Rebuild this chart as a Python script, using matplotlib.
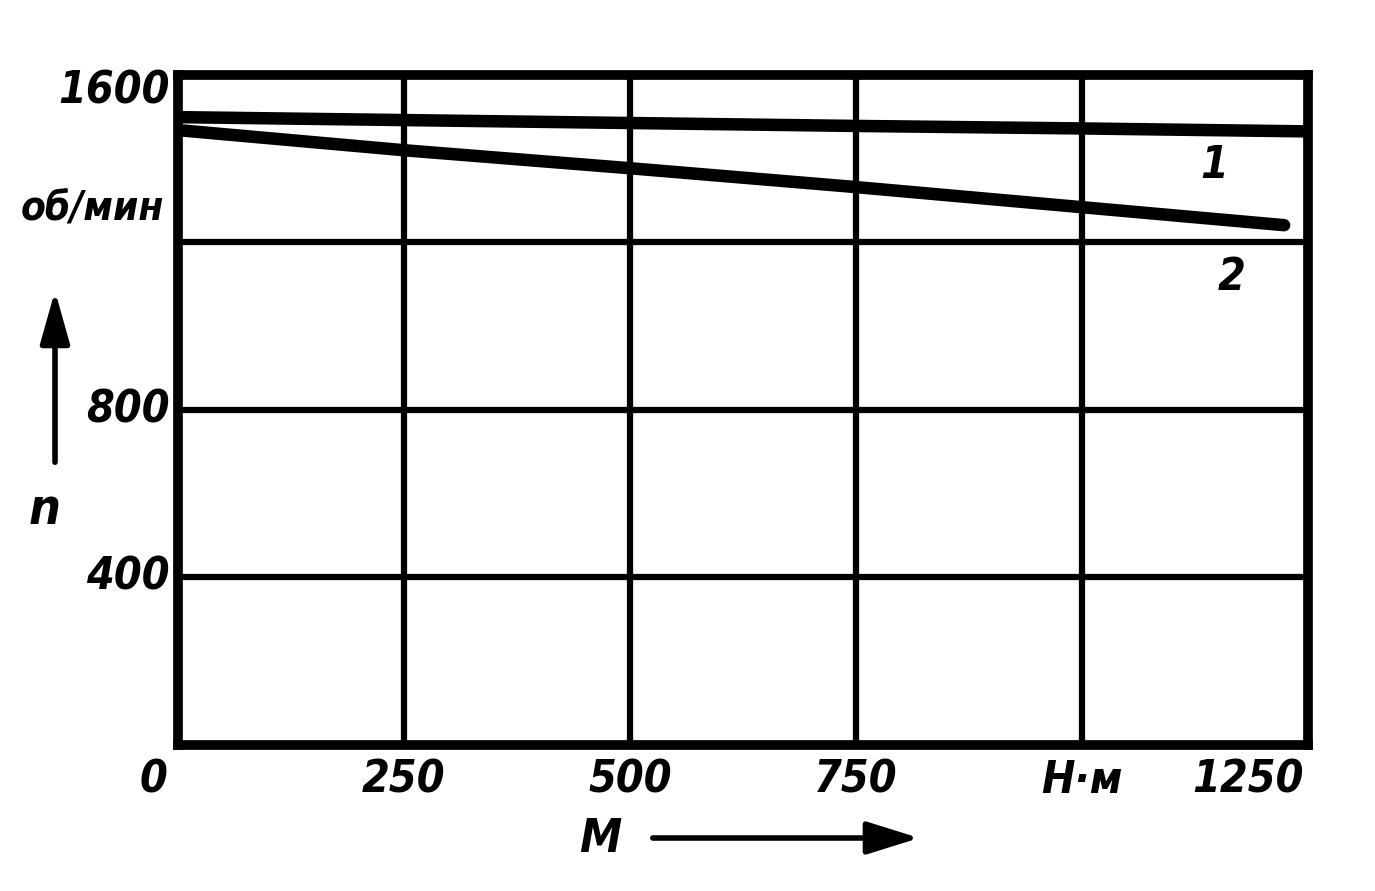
import matplotlib
matplotlib.use("Agg")
import matplotlib.pyplot as plt

# Data
torque_1 = [0, 250, 500, 750, 1000, 1250]
speed_1 = [1499, 1492, 1485, 1478, 1472, 1465]
torque_2 = [0, 250, 500, 750, 1000, 1224]
speed_2 = [1468, 1420, 1377, 1332, 1284, 1241]
x_ticks = [0, 250, 500, 750, 1000, 1250]
x_tick_labels = ["0", "250", "500", "750", "Н·м", "1250"]
y_ticks = [0, 400, 800, 1200, 1600]
y_tick_labels = ["", "400", "800", "об/мин", "1600"]
curve_names = ["1", "2"]

FONT = dict(family="DejaVu Sans", style="italic", weight="bold", stretch="condensed")

fig = plt.figure(figsize=(13.75, 8.91), dpi=100)
ax = fig.add_axes([0.1295, 0.164, 0.8215, 0.752])
ax.set_xlim(0, 1250)
ax.set_ylim(0, 1600)
ax.set_xticks(x_ticks)
ax.set_yticks(y_ticks)
ax.set_xticklabels([])
ax.set_yticklabels([])
ax.tick_params(length=0)
ax.grid(True, color="black", linewidth=4.5)
for s in ax.spines.values():
    s.set_linewidth(7)
    s.set_color("black")

ax.plot(torque_1, speed_1, color="black", linewidth=9, solid_capstyle="round")
ax.plot(torque_2, speed_2, color="black", linewidth=9, solid_capstyle="round")

# x tick labels
for xv, lab in zip(x_ticks, x_tick_labels):
    if xv == 0:
        ax.annotate(lab, (xv, 0), xytext=(-8, -10), textcoords="offset points",
                    ha="right", va="top", fontsize=32, **FONT)
    elif xv == 1250:
        ax.annotate(lab, (xv, 0), xytext=(-3, -10), textcoords="offset points",
                    ha="right", va="top", fontsize=32, **FONT)
    else:
        ax.annotate(lab, (xv, 0), xytext=(0, -10), textcoords="offset points",
                    ha="center", va="top", fontsize=32, **FONT)

# y tick labels
for yv, lab in zip(y_ticks, y_tick_labels):
    if not lab:
        continue
    if yv == 1600:
        ax.annotate(lab, (0, yv), xytext=(-6, 4), textcoords="offset points",
                    ha="right", va="top", fontsize=32, **FONT)
    elif yv == 1200:
        ax.annotate(lab, (0, yv), xytext=(-10, 10), textcoords="offset points",
                    ha="right", va="bottom", fontsize=29, **FONT)
    else:
        ax.annotate(lab, (0, yv), xytext=(-6, 0), textcoords="offset points",
                    ha="right", va="center", fontsize=32, **FONT)

# curve labels
ax.text(1147, 1384, curve_names[0], fontsize=32, ha="center", va="center", **FONT)
ax.text(1166, 1115, curve_names[1], fontsize=32, ha="center", va="center", **FONT)

# axis names with arrows (figure coords)
fig.text(600 / 1375, 1 - 840 / 891, "M", fontsize=34, ha="center", va="center", **FONT)
fig.add_artist(matplotlib.patches.FancyArrowPatch(
    (650 / 1375, 1 - 838 / 891), (922 / 1375, 1 - 838 / 891),
    transform=fig.transFigure, arrowstyle="-|>,head_length=1.6,head_width=0.5",
    mutation_scale=20, linewidth=4, color="black"))
fig.text(45 / 1375, 1 - 510 / 891, "n", fontsize=36, ha="center", va="center", **FONT)
fig.add_artist(matplotlib.patches.FancyArrowPatch(
    (55 / 1375, 1 - 465 / 891), (55 / 1375, 1 - 288 / 891),
    transform=fig.transFigure, arrowstyle="-|>,head_length=1.6,head_width=0.45",
    mutation_scale=20, linewidth=4, color="black"))

fig.savefig("out.png", dpi=100, facecolor="white")
